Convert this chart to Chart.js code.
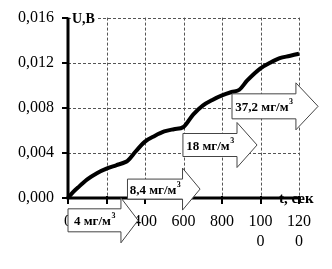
<!DOCTYPE html>
<html><head><meta charset="utf-8">
<script src="https://cdn.jsdelivr.net/npm/chart.js@4/dist/chart.umd.min.js"></script>
<style>html,body{margin:0;padding:0;background:#fff;overflow:hidden}#wrap{width:332px;height:269px}</style>
</head><body><div id="wrap"><canvas id="c" width="332" height="269"></canvas></div>
<script>
// ---- data ----
const times = [0, 25, 50, 100, 150, 200, 250, 300, 310, 350, 400, 450, 500, 550, 600, 650, 700, 750, 800, 850, 890, 930, 1000, 1050, 1100, 1150, 1200];
const voltages = [0, 0.0005, 0.0009, 0.00165, 0.0022, 0.0026, 0.0029, 0.0032, 0.0033, 0.0041, 0.0050, 0.0055, 0.0059, 0.0061, 0.0063, 0.0074, 0.0082, 0.0087, 0.0091, 0.0094, 0.0096, 0.0104, 0.0115, 0.0120, 0.0124, 0.0126, 0.0128];
const xTickValues = [0, 200, 400, 600, 800, 1000, 1200];
const xTickLabels = ['0', '200', '400', '600', '800', ['100', '0'], ['120', '0']];
const yTickValues = [0, 0.004, 0.008, 0.012, 0.016];
const yTickLabels = ['0,000', '0,004', '0,008', '0,012', '0,016'];
const concentrations = ['4', '8,4', '18', '37,2'];
const yAxisTitle = 'U,B';
const xAxisTitle = 't, сек';
const unitText = ' мг/м';
const unitSup = '3';

// ---- annotation layout (arrows, in axis units + pixel half heights) ----
const arrowLayout = [
  {start: 0,   base: 275,  tip: 364,  cy: -0.00198, rh: 11.5, hh: 22.5},
  {start: 309, base: 595,  tip: 686,  cy: 0.00079,  rh: 10,   hh: 21},
  {start: 597, base: 878,  tip: 982,  cy: 0.0047,   rh: 11.5, hh: 22.5},
  {start: 852, base: 1184, tip: 1299, cy: 0.00813,  rh: 12.5, hh: 23.5}
];

const SERIF = "'Liberation Serif', 'Times New Roman', serif";

const gridPlugin = {
  id: 'dashGrid',
  beforeDatasetsDraw(chart) {
    const ctx = chart.ctx, xs = chart.scales.x, ys = chart.scales.y, ca = chart.chartArea;
    ctx.save();
    ctx.strokeStyle = '#555';
    ctx.lineWidth = 1;
    ctx.setLineDash([3, 2]);
    xs.ticks.forEach(t => {
      if (t.value === xs.min) return;
      const x = Math.round(xs.getPixelForValue(t.value)) + 0.5;
      ctx.beginPath(); ctx.moveTo(x, ca.top); ctx.lineTo(x, ca.bottom); ctx.stroke();
    });
    ys.ticks.forEach(t => {
      if (t.value === ys.min) return;
      const y = Math.round(ys.getPixelForValue(t.value)) + 0.5;
      ctx.beginPath(); ctx.moveTo(ca.left, y); ctx.lineTo(ca.right, y); ctx.stroke();
    });
    ctx.setLineDash([]);
    ctx.strokeStyle = '#000';
    ctx.lineWidth = 2;
    xs.ticks.forEach(t => {
      const x = Math.round(xs.getPixelForValue(t.value));
      ctx.beginPath(); ctx.moveTo(x, ca.bottom - 2); ctx.lineTo(x, ca.bottom + 6); ctx.stroke();
    });
    ys.ticks.forEach(t => {
      const y = Math.round(ys.getPixelForValue(t.value));
      ctx.beginPath(); ctx.moveTo(ca.left - 6, y); ctx.lineTo(ca.left, y); ctx.stroke();
    });
    ctx.lineWidth = 3;
    ctx.beginPath();
    ctx.moveTo(ca.left, ca.top); ctx.lineTo(ca.left, ca.bottom); ctx.lineTo(ca.right, ca.bottom);
    ctx.stroke();
    ctx.restore();
  }
};

const annot = {
  id: 'annot',
  afterDraw(chart) {
    const ctx = chart.ctx, xs = chart.scales.x, ys = chart.scales.y;
    ctx.save();
    arrowLayout.forEach((a, i) => {
      const x0 = xs.getPixelForValue(a.start), xb = xs.getPixelForValue(a.base), xt = xs.getPixelForValue(a.tip);
      const cy = ys.getPixelForValue(a.cy);
      ctx.beginPath();
      ctx.moveTo(x0, cy - a.rh);
      ctx.lineTo(xb, cy - a.rh);
      ctx.lineTo(xb, cy - a.hh);
      ctx.lineTo(xt, cy);
      ctx.lineTo(xb, cy + a.hh);
      ctx.lineTo(xb, cy + a.rh);
      ctx.lineTo(x0, cy + a.rh);
      ctx.closePath();
      ctx.fillStyle = '#fff';
      ctx.fill();
      ctx.strokeStyle = '#444';
      ctx.lineWidth = 1;
      ctx.stroke();
      const main = concentrations[i] + unitText;
      ctx.font = 'bold 13px ' + SERIF;
      const w1 = ctx.measureText(main).width;
      ctx.font = 'bold 8px ' + SERIF;
      const w2 = ctx.measureText(unitSup).width;
      const tx = (x0 + xb) / 2 - (w1 + w2) / 2;
      ctx.fillStyle = '#000';
      ctx.textBaseline = 'alphabetic';
      ctx.textAlign = 'left';
      ctx.font = 'bold 13px ' + SERIF;
      ctx.fillText(main, tx, cy + 5);
      ctx.font = 'bold 8px ' + SERIF;
      ctx.fillText(unitSup, tx + w1 + 0.5, cy - 2);
    });
    const ca = chart.chartArea;
    ctx.font = 'bold 14px ' + SERIF;
    const wu = ctx.measureText(yAxisTitle).width;
    ctx.fillStyle = '#fff';
    ctx.fillRect(ca.left + 3, ca.top - 5, wu + 2, 12);
    ctx.fillStyle = '#000';
    ctx.textBaseline = 'middle';
    ctx.fillText(yAxisTitle, ca.left + 4, ca.top + 2);
    ctx.font = 'bold 15px ' + SERIF;
    ctx.fillText(xAxisTitle, ca.right - 20, ca.bottom + 1);
    ctx.restore();
  }
};

new Chart(document.getElementById('c').getContext('2d'), {
  type: 'line',
  data: {
    datasets: [{
      data: times.map((t, i) => ({x: t, y: voltages[i]})),
      borderColor: '#000',
      borderWidth: 4,
      pointRadius: 0,
      cubicInterpolationMode: 'monotone',
      fill: false,
      clip: false
    }]
  },
  options: {
    responsive: false,
    animation: false,
    devicePixelRatio: 1,
    layout: {padding: {left: 0, right: 33, top: 17, bottom: 0}},
    plugins: {legend: {display: false}, tooltip: {enabled: false}},
    scales: {
      x: {
        type: 'linear', min: 0, max: 1200,
        afterFit(s) { s.height = 71; },
        afterBuildTicks(s) { s.ticks = xTickValues.map(v => ({value: v})); },
        ticks: {
          callback: (v, i) => xTickLabels[i],
          font: {family: SERIF, size: 16, lineHeight: 1.25},
          color: '#000', padding: 8, maxRotation: 0, minRotation: 0, autoSkip: false
        },
        grid: {drawOnChartArea: false, color: 'rgba(0,0,0,0)', tickLength: 6},
        border: {display: false}
      },
      y: {
        type: 'linear', min: 0, max: 0.016,
        afterFit(s) { s.width = 68; },
        afterBuildTicks(s) { s.ticks = yTickValues.map(v => ({value: v})); },
        ticks: {
          callback: (v, i) => yTickLabels[i],
          font: {family: SERIF, size: 16},
          color: '#000', padding: 8
        },
        grid: {drawOnChartArea: false, color: 'rgba(0,0,0,0)', tickLength: 6},
        border: {display: false}
      }
    }
  },
  plugins: [gridPlugin, annot]
});
</script>
</body></html>
